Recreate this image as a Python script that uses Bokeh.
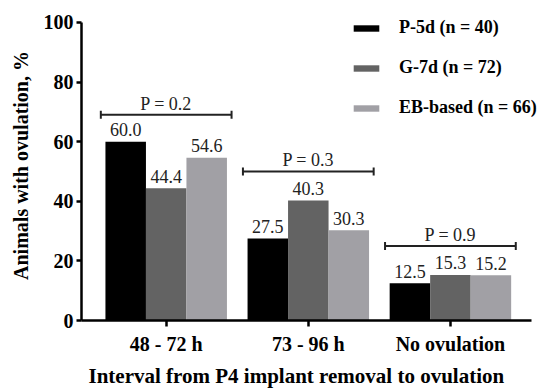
from bokeh.plotting import figure
from bokeh.models import (ColumnDataSource, FixedTicker, Range1d, Legend, LegendItem, Title)
from bokeh.core.properties import value
from bokeh.embed import file_html
from bokeh.resources import INLINE

# ---- data ----
categories = ["48 - 72 h", "73 - 96 h", "No ovulation"]
series_names = ["P-5d (n = 40)", "G-7d (n = 72)", "EB-based (n = 66)"]
p5d = [60.0, 27.5, 12.5]
g7d = [44.4, 40.3, 15.3]
eb = [54.6, 30.3, 15.2]
p_labels = ["P = 0.2", "P = 0.3", "P = 0.9"]
p_heights = [69, 50, 25]
y_ticks = [0, 20, 40, 60, 80, 100]

colors = ["#000000", "#636363", "#a1a0a5"]
FONT = "Times New Roman"

xpos = list(range(len(categories)))
bar_w = 0.285
offsets = [-0.285, 0.0, 0.285]

x_start, x_axis_end, x_frame_end = -0.596, 2.570, 2.641
y_max, y_frame_end = 100, 104

p = figure(width=541, height=391, output_backend="svg", toolbar_location=None,
           x_range=Range1d(x_start, x_frame_end), y_range=Range1d(0, y_frame_end),
           min_border_left=81, min_border_top=10, min_border_bottom=69,
           min_border_right=0)
p.outline_line_color = None
p.xgrid.visible = False
p.ygrid.visible = False

renderers = []
for vals, off, col in zip([p5d, g7d, eb], offsets, colors):
    src = ColumnDataSource(dict(x=[x + off for x in xpos], top=vals,
                                lab=[f"{v:.1f}" for v in vals]))
    r = p.vbar(x="x", top="top", width=bar_w, bottom=0, source=src,
               fill_color=col, line_color=None)
    renderers.append(r)
    p.text(x="x", y="top", text="lab", source=src, text_align="center",
           text_baseline="middle", y_offset=-12, text_font=value(FONT),
           text_font_size="18px", text_color="#222222")

# p-value brackets
half = 0.46
cap = 1.33
bsrc = ColumnDataSource(dict(x0=[x - half for x in xpos], x1=[x + half for x in xpos],
                             y=p_heights, yl=[h - cap for h in p_heights],
                             yh=[h + cap for h in p_heights], xc=xpos, lab=p_labels))
p.segment(x0="x0", y0="y", x1="x1", y1="y", source=bsrc, line_color="#222222", line_width=2)
p.segment(x0="x0", y0="yl", x1="x0", y1="yh", source=bsrc, line_color="#222222", line_width=2)
p.segment(x0="x1", y0="yl", x1="x1", y1="yh", source=bsrc, line_color="#222222", line_width=2)
p.text(x="xc", y="y", text="lab", source=bsrc, text_align="center", text_baseline="middle",
       y_offset=-11, text_font=value(FONT), text_font_size="18px", text_color="#222222")

# axes
for ax in (p.xaxis[0], p.yaxis[0]):
    ax.axis_line_width = 2.5
    ax.axis_line_color = "black"
    ax.major_tick_line_width = 2.5
    ax.major_tick_line_color = "black"
    ax.minor_tick_line_color = None
    ax.major_tick_in = 0
    ax.major_label_text_font = FONT
    ax.major_label_text_font_style = "bold"
    ax.major_label_text_color = "black"
    ax.axis_label_text_font = FONT
    ax.axis_label_text_font_style = "bold"
    ax.axis_label_text_color = "black"

p.xaxis.bounds = (x_start, x_axis_end)
p.xaxis.ticker = FixedTicker(ticks=xpos)
p.xaxis.major_label_overrides = {i: c for i, c in zip(xpos, categories)}
p.xaxis.major_tick_out = 6
p.xaxis.major_label_standoff = 6
p.xaxis.major_label_text_font_size = "20px"

p.add_layout(Title(text="Interval from P4 implant removal to ovulation", align="left",
                   offset=7, standoff=8, text_font=FONT, text_font_style="bold",
                   text_font_size="21px", text_color="black"), "below")

p.yaxis.bounds = (0, y_max)
p.yaxis.ticker = FixedTicker(ticks=y_ticks)
p.yaxis.major_tick_out = 5
p.yaxis.major_label_standoff = 3
p.yaxis.major_label_text_font_size = "20px"
p.yaxis.axis_label = "Animals with ovulation, %"
p.yaxis.axis_label_standoff = 9
p.yaxis.axis_label_text_font_size = "20px"

legend = Legend(items=[LegendItem(label=n, renderers=[r]) for n, r in zip(series_names, renderers)],
                location=(269, 202), glyph_width=32, glyph_height=8, label_standoff=17,
                spacing=19, label_height=20, padding=0, margin=0,
                border_line_color=None, background_fill_alpha=0,
                label_text_font=FONT, label_text_font_style="bold",
                label_text_font_size="18px", label_text_color="black")
p.add_layout(legend, "center")

html = file_html(p, INLINE)
open("out.html", "w").write(html)
